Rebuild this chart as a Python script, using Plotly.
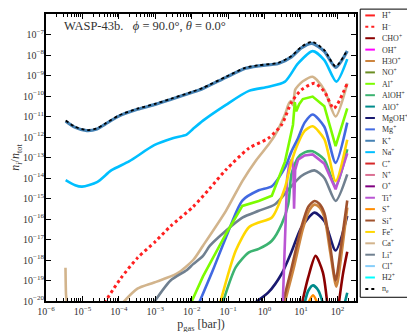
import numpy as np
import plotly.graph_objects as go

# values, stored as log10(p_gas [bar]) and log10(n_i/n_tot)
ne_logp = [-5.46, -5.2, -4.88, -4.6, -4.38, -4.0, -3.49, -3.0, -2.58, -2.0, -1.69, -1.06, -0.52, -0.16, 0.38, 0.74, 1.01, 1.3, 1.64, 1.95, 2.27]
ne_logn = [-11.2, -11.5, -11.66, -11.58, -11.35, -10.95, -10.62, -10.38, -10.14, -9.8, -9.6, -9.06, -8.62, -8.5, -8.38, -8.05, -7.6, -7.35, -7.76, -8.55, -7.76]
kp_logn = [-11.23, -11.53, -11.69, -11.61, -11.38, -10.98, -10.65, -10.41, -10.17, -9.83, -9.63, -9.09, -8.65, -8.53, -8.41, -8.09, -7.65, -7.43, -7.82, -8.6, -7.8]

nap_logp = [-5.46, -5.2, -5.01, -4.6, -4.2, -3.71, -3.03, -2.5, -2.14, -1.96, -1.69, -1.06, -0.43, 0.11, 0.56, 0.92, 1.32, 1.64, 1.97, 2.27]
nap_logn = [-14.1, -14.35, -14.42, -14.2, -13.62, -13.18, -12.4, -12.05, -11.88, -11.6, -11.2, -10.43, -9.75, -9.55, -9.3, -8.41, -7.81, -8.25, -9.3, -8.2]

cap_logp = [-5.465, -5.46, -5.45, -5.42, None, -3.9, -3.49, -3.03, -2.41, -1.96, -1.69, -1.06, -0.61, -0.25, 0.11, 0.29, 0.56, 0.66, 0.72, 0.78, 0.84, 0.92, 1.05, 1.32, 1.64, 1.95, 2.27]
cap_logn = [-18.38, -19.0, -19.7, -20.2, None, -20.1, -19.4, -19.1, -18.67, -18.0, -17.3, -15.6, -14.15, -13.18, -12.37, -11.9, -10.9, -10.4, -10.25, -10.45, -9.7, -9.5, -9.28, -9.06, -9.7, -11.0, -9.38]

hm_logp = [-4.4, -3.95, -3.49, -3.0, -2.58, -1.96, -1.5, -1.06, -0.43, 0.11, 0.47, 0.74, 1.01, 1.37, 1.64, 1.9, 2.27]
hm_logn = [-20.1, -18.9, -17.9, -17.1, -16.35, -15.4, -14.5, -13.6, -12.55, -12.05, -11.4, -10.3, -9.7, -9.38, -9.78, -10.6, -9.38]

lip_logp = [-3.05, -2.58, -2.14, -1.96, -1.69, -1.5, -1.06, -0.61, -0.16, 0.29, 0.74, 1.01, 1.37, 1.64, 1.95, 2.27]
lip_logn = [-20.1, -19.0, -18.5, -18.2, -17.8, -17.3, -16.57, -15.93, -15.6, -15.28, -14.39, -13.9, -13.63, -14.0, -15.12, -13.82]

mgp_logp = [-1.8, -1.42, -1.06, -0.61, -0.16, 0.2, 0.56, 0.74, 0.92, 1.1, 1.32, 1.64, 1.95, 2.27]
mgp_logn = [-20.1, -18.5, -16.9, -15.1, -14.6, -14.4, -13.5, -12.7, -12.05, -11.3, -10.9, -11.5, -13.26, -11.3]

alp_logp = [-2.02, -1.69, -1.06, -0.61, -0.16, 0.2, 0.56, 0.7, 0.78, 0.83, 0.87, 0.95, 1.05, 1.32, 1.64, 1.95, 2.27]
alp_logn = [-20.1, -18.8, -16.73, -15.36, -15.12, -14.87, -13.2, -12.0, -11.4, -10.3, -10.75, -10.4, -10.15, -10.03, -10.5, -12.45, -10.6]

fep_logp = [-1.22, -0.79, -0.43, -0.16, 0.2, 0.56, 0.74, 0.92, 1.1, 1.32, 1.64, 1.95, 2.27]
fep_logn = [-20.1, -17.54, -16.4, -16.17, -15.93, -14.47, -13.2, -12.3, -11.7, -11.48, -12.1, -14.15, -12.13]

aloh_logp = [-1.15, -0.79, -0.43, -0.16, 0.2, 0.47, 0.65, 0.74, 0.92, 1.1, 1.32, 1.64, 1.95, 2.27]
aloh_logn = [-20.1, -18.35, -17.63, -17.46, -17.06, -16.25, -15.28, -13.8, -13.0, -12.75, -12.7, -13.1, -14.4, -12.6]

tip_logp = [0.5, 0.56, 0.62, 0.68, 0.75, 0.79, 0.81, 0.84, 0.92, 1.1, 1.32, 1.64, 1.95, 2.27]
tip_logn = [-20.1, -16.5, -14.0, -13.3, -13.1, -13.6, -15.5, -13.6, -13.1, -12.9, -12.85, -13.3, -14.55, -12.8]

mgoh_logp = [-0.28, 0.11, 0.47, 0.74, 1.01, 1.37, 1.64, 1.95, 2.27]
mgoh_logn = [-20.1, -19.57, -18.67, -17.6, -16.41, -15.69, -16.1, -17.54, -15.85]

sip_logp = [0.5, 0.74, 1.01, 1.2, 1.37, 1.5, 1.64, 1.8, 1.95, 2.1, 2.27]
sip_logn = [-20.1, -18.4, -16.4, -15.4, -15.12, -15.25, -15.7, -17.3, -19.0, -17.3, -15.1]

h3o_logp = [0.55, 0.8, 1.05, 1.22, 1.37, 1.5, 1.64, 1.8, 1.97, 2.12, 2.27]
h3o_logn = [-20.1, -18.4, -16.5, -15.6, -15.3, -15.42, -15.9, -17.6, -19.3, -17.6, -15.45]

cho_logp = [1.03, 1.19, 1.4, 1.6, 1.72, None, 2.04, 2.15, 2.27]
cho_logn = [-20.1, -18.9, -17.8, -18.6, -20.1, None, -20.1, -18.7, -17.6]

alo_logp = [1.1, 1.2, 1.33, 1.48, 1.6, None, 2.2, 2.27]
alo_logn = [-20.1, -19.5, -19.24, -19.5, -20.1, None, -20.1, -19.6]

sp_logp = [1.2, 1.33, 1.45]
sp_logn = [-20.1, -19.72, -20.1]

x_exponents = [-6, -5, -4, -3, -2, -1, 0, 1, 2]
y_exponents = list(range(-20, -5))

legend_labels = ["H<sup>+</sup>", "H<sup>−</sup>", "CHO<sup>+</sup>", "OH<sup>+</sup>", "H3O<sup>+</sup>",
                 "NO<sup>+</sup>", "Al<sup>+</sup>", "AlOH<sup>+</sup>", "AlO<sup>+</sup>", "MgOH<sup>+</sup>",
                 "Mg<sup>+</sup>", "K<sup>+</sup>", "Na<sup>+</sup>", "C<sup>+</sup>", "N<sup>+</sup>",
                 "O<sup>+</sup>", "Ti<sup>+</sup>", "S<sup>+</sup>", "Si<sup>+</sup>", "Fe<sup>+</sup>",
                 "Ca<sup>+</sup>", "Li<sup>+</sup>", "Cl<sup>+</sup>", "H2<sup>+</sup>", "n<sub>e</sub>"]
legend_colors = ["#ff2020", "#ff2020", "#8b0000", "#ff00ff", "#cd853f",
                 "#6b8e23", "#7cfc00", "#3cb371", "#008b8b", "#191970",
                 "#4169e1", "#4682b4", "#00bfff", "#d62728", "#db7093",
                 "#800080", "#ba55d3", "#ff8c00", "#a0522d", "#ffd700",
                 "#d2b48c", "#708090", "#87cefa", "#00ffff", "black"]
legend_dash = ["solid", "dot"] + ["solid"] * 22 + ["dot"]

color = dict(zip(["H+", "H-", "CHO+", "OH+", "H3O+", "NO+", "Al+", "AlOH+", "AlO+", "MgOH+", "Mg+", "K+", "Na+",
                  "C+", "N+", "O+", "Ti+", "S+", "Si+", "Fe+", "Ca+", "Li+", "Cl+", "H2+", "ne"], legend_colors))

FONT = "Liberation Serif"


def to_p(vals):
    return [None if v is None else 10 ** v for v in vals]


fig = go.Figure()


def add_curve(logp, logn, name, dash="solid", width=2.6, shape="spline"):
    fig.add_trace(go.Scatter(
        x=to_p(logp), y=to_p(logn), mode="lines", name=name, showlegend=False,
        line=dict(color=color[name], width=width, dash=dash, shape=shape, smoothing=0.7),
    ))


add_curve(cap_logp, cap_logn, "Ca+")
add_curve(lip_logp, lip_logn, "Li+")
add_curve(mgoh_logp, mgoh_logn, "MgOH+")
add_curve(h3o_logp, h3o_logn, "H3O+")
add_curve(sip_logp, sip_logn, "Si+")
add_curve(cho_logp, cho_logn, "CHO+")
add_curve(alo_logp, alo_logn, "AlO+")
add_curve(sp_logp, sp_logn, "S+")
add_curve(aloh_logp, aloh_logn, "AlOH+")
add_curve(tip_logp, tip_logn, "Ti+", shape="linear")
add_curve(fep_logp, fep_logn, "Fe+")
add_curve(mgp_logp, mgp_logn, "Mg+")
add_curve(alp_logp, alp_logn, "Al+", shape="linear")
add_curve(nap_logp, nap_logn, "Na+")
add_curve(hm_logp, hm_logn, "H-", dash="dot", width=3)
add_curve(ne_logp, kp_logn, "K+", width=3.2)
add_curve(ne_logp, ne_logn, "ne", dash="dot", width=1.8)

# hand-built legend (plotly's own legend rows are too tall for 25 entries here)
row_top, row_step = 0.995, 0.0397
for i, (lab, col, dsh) in enumerate(zip(legend_labels, legend_colors, legend_dash)):
    yy = row_top - i * row_step
    fig.add_shape(type="line", xref="paper", yref="paper", x0=1.030, x1=1.061, y0=yy, y1=yy,
                  line=dict(color=col, width=2, dash=dsh))
    fig.add_annotation(xref="paper", yref="paper", x=1.078, y=yy, text=lab, showarrow=False,
                       xanchor="left", yanchor="middle", font=dict(family=FONT, size=8, color="#333"))
fig.add_shape(type="rect", xref="paper", yref="paper", x0=1.0136, x1=1.1815, y0=0.013, y1=1.017,
              line=dict(color="black", width=1))

fig.add_annotation(xref="paper", yref="paper", x=0.052, y=0.957, xanchor="left", yanchor="middle",
                   text="WASP-43b.&nbsp;&nbsp;&nbsp;<i>ϕ</i> = 90.0°, <i>θ</i> = 0.0°", showarrow=False,
                   font=dict(family=FONT, size=12.5, color="#333"))

axis_common = dict(
    type="log", ticks="inside", ticklen=5, tickwidth=1, tickcolor="black",
    showline=True, linewidth=2, linecolor="black", mirror="allticks",
    showgrid=False, zeroline=False, tickfont=dict(family=FONT, size=10, color="#333"),
)

fig.update_xaxes(**axis_common, range=[-6, 2.51],
                 tickvals=[10 ** e for e in x_exponents],
                 ticktext=[f"10<sup>{e}</sup>".replace("-", "−") for e in x_exponents],
                 minor=dict(ticks="inside", ticklen=3, tickcolor="black", dtick="D1", showgrid=False),
                 title=dict(text="p<sub>gas</sub> [bar])", font=dict(family=FONT, size=12, color="#333"), standoff=1))
fig.update_yaxes(**axis_common, range=[-20, -6], ticklabelstandoff=-2,
                 tickvals=[10 ** e for e in y_exponents],
                 ticktext=[f"10<sup>{e}</sup>".replace("-", "−") for e in y_exponents],
                 title=dict(text="<i>n</i><sub><i>i</i></sub>/<i>n</i><sub>tot</sub>",
                            font=dict(family=FONT, size=12, color="#333"), standoff=3))

fig.update_layout(
    width=415, height=332,
    margin=dict(l=32, r=67.3, t=4, b=39.3),
    plot_bgcolor="white", paper_bgcolor="white",
    showlegend=False,
)

fig.write_html("out.html")
